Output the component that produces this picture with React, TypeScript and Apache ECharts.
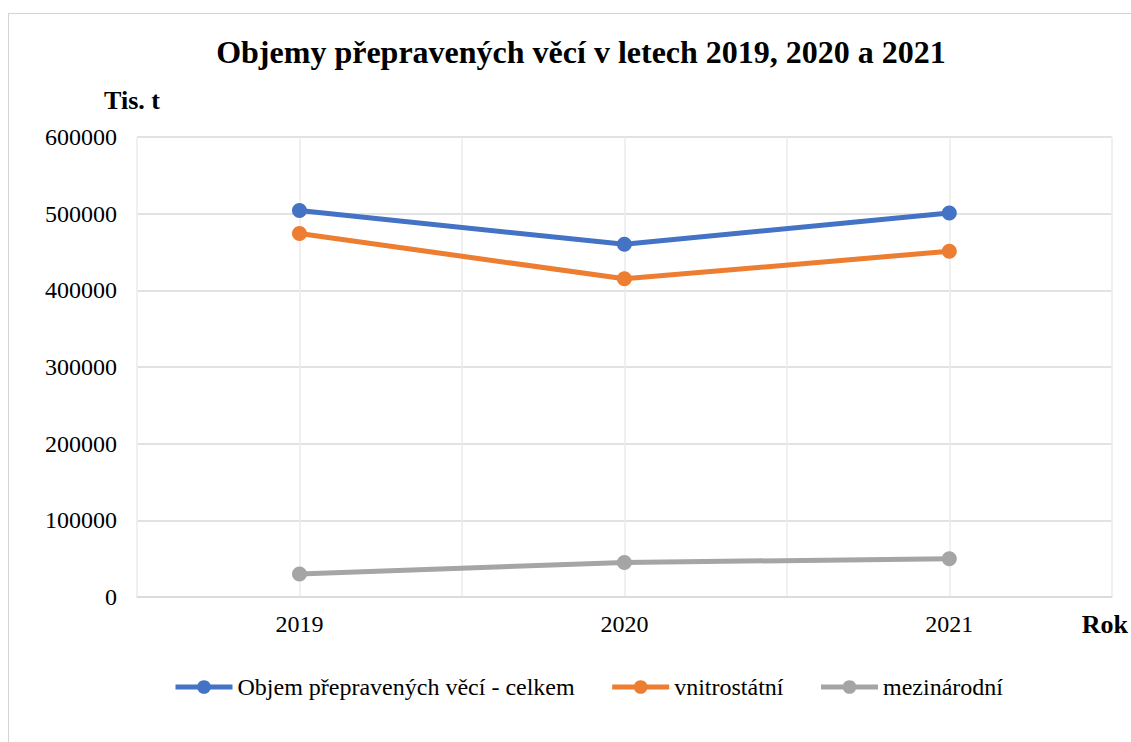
import React, { useEffect, useRef } from "react";
import * as echarts from "echarts";

const years = [2019, 2020, 2021];
const seriesNames = ["Objem přepravených věcí - celkem", "vnitrostátní", "mezinárodní"];
const totalValues = [504000, 460000, 501000];
const domesticValues = [474000, 415000, 451000];
const internationalValues = [30000, 45000, 50000];
const colors = ["#4472C4", "#ED7D31", "#A5A5A5"];
const titleText = "Objemy přepravených věcí v letech 2019, 2020 a 2021";
const yAxisName = "Tis. t";
const xAxisName = "Rok";

const FONT = "'Liberation Serif', 'Times New Roman', serif";

export default function App() {
  const ref = useRef<HTMLDivElement>(null);

  useEffect(() => {
    if (!ref.current) return;
    const chart = echarts.init(ref.current, undefined, { renderer: "svg" });
    const allValues = [totalValues, domesticValues, internationalValues];
    chart.setOption({
      animation: false,
      backgroundColor: "transparent",
      title: {
        text: titleText,
        left: 576,
        textAlign: "center",
        top: 31,
        textStyle: { fontFamily: FONT, fontSize: 32, fontWeight: "bold", color: "#000" },
      },
      grid: { left: 137, right: 18, top: 137, bottom: 145 },
      legend: {
        left: 168,
        top: 670,
        itemWidth: 57,
        itemHeight: 17,
        itemGap: 35,
        data: seriesNames,
        lineStyle: { width: 5 },
        textStyle: { fontFamily: FONT, fontSize: 24, color: "#000" },
      },
      xAxis: {
        type: "value",
        min: 2018.5,
        max: 2021.5,
        interval: 0.5,
        name: xAxisName,
        nameLocation: "end",
        nameGap: -30,
        nameTextStyle: {
          fontFamily: FONT,
          fontSize: 26,
          fontWeight: "bold",
          color: "#000",
          align: "left",
          verticalAlign: "top",
          padding: [14, 0, 0, 0],
        },
        axisLine: { show: true, lineStyle: { color: "#d9d9d9", width: 1.5 } },
        axisTick: { show: false },
        axisLabel: {
          margin: 15,
          fontFamily: FONT,
          fontSize: 24,
          color: "#000",
          formatter: (v: number) => (years.indexOf(v) >= 0 ? String(v) : ""),
        },
        splitLine: { show: true, lineStyle: { color: "#ebebeb", width: 1.5 } },
      },
      yAxis: {
        type: "value",
        min: 0,
        max: 600000,
        interval: 100000,
        name: yAxisName,
        nameLocation: "end",
        nameGap: 37,
        nameTextStyle: {
          fontFamily: FONT,
          fontSize: 26,
          fontWeight: "bold",
          color: "#000",
          align: "center",
          verticalAlign: "middle",
          padding: [0, 10, 0, 0],
        },
        axisLine: { show: false },
        axisTick: { show: false },
        axisLabel: {
          margin: 20,
          fontFamily: FONT,
          fontSize: 24,
          color: "#000",
          formatter: (v: number) => String(v),
        },
        splitLine: { show: true, lineStyle: { color: "#d9d9d9", width: 1.5 } },
      },
      series: seriesNames.map((name, i) => ({
        name,
        type: "line",
        data: years.map((y, j) => [y, allValues[i][j]]),
        symbol: "circle",
        symbolSize: 15,
        color: colors[i],
        lineStyle: { width: 5, color: colors[i] },
        itemStyle: { color: colors[i] },
      })),
    });
    return () => chart.dispose();
  }, []);

  return (
    <div
      style={{
        position: "fixed",
        left: 0,
        top: 0,
        width: 1131,
        height: 742,
        background: "#fff",
        overflow: "hidden",
      }}
    >
      <div
        style={{
          position: "absolute",
          left: 8,
          top: 13,
          width: 1200,
          height: 800,
          border: "1px solid #d4d4d4",
          boxSizing: "border-box",
        }}
      />
      <div ref={ref} style={{ position: "absolute", left: 0, top: 0, width: 1131, height: 742 }} />
    </div>
  );
}
